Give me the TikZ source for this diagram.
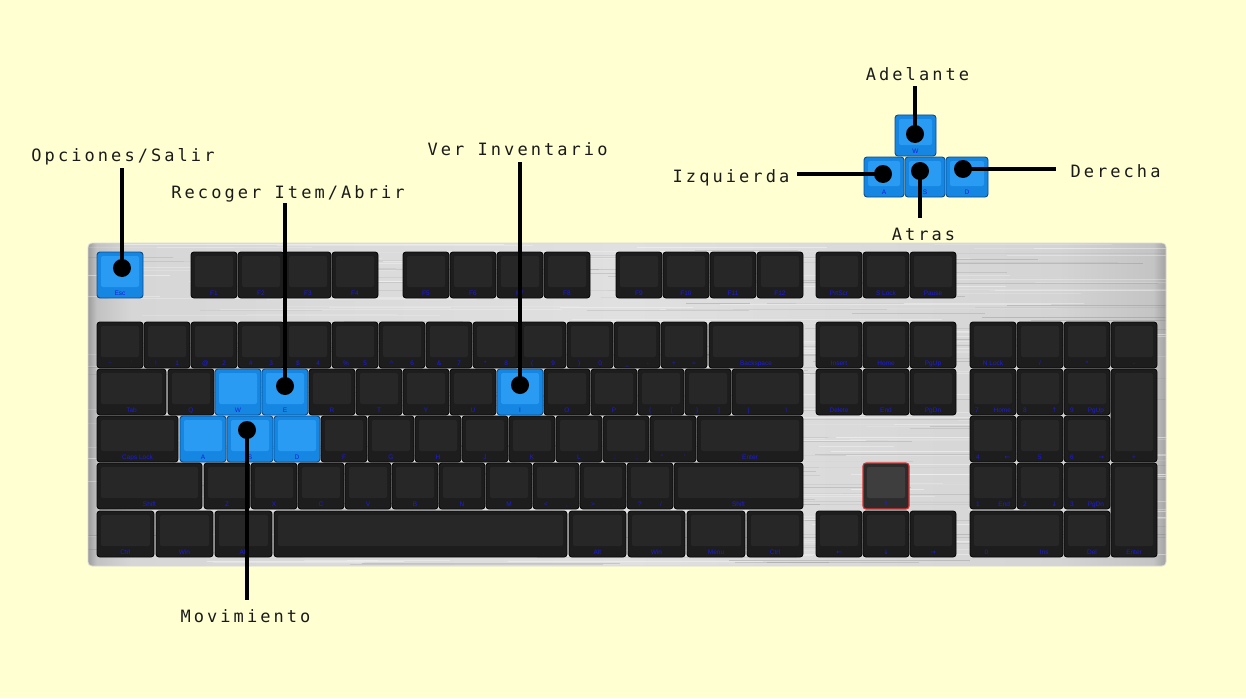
\documentclass[tikz,border=0pt]{standalone}
\usepackage{fontspec}
\setmainfont{Liberation Sans}
\newfontfamily\lblfont[LetterSpace=18]{DejaVu Sans Mono}
\newfontfamily\arrfont{DejaVu Sans}
\definecolor{bgc}{HTML}{FFFFD2}
\definecolor{keyout}{HTML}{1D1D1D}
\definecolor{keyin}{HTML}{272727}
\definecolor{keyedge}{HTML}{080808}
\definecolor{blueout}{HTML}{1587E2}
\definecolor{bluein}{HTML}{2A9BF2}
\definecolor{blueedge}{HTML}{0B4C8C}
\definecolor{rededge}{HTML}{E03030}
\definecolor{upout}{HTML}{2C2C2C}
\definecolor{upin}{HTML}{3E3E3E}
\definecolor{legc}{HTML}{1C1CE0}
\definecolor{lblc}{HTML}{1A1A1A}
\definecolor{m1}{HTML}{9C9C9C}
\definecolor{m2}{HTML}{C2C2C2}
\definecolor{m3}{HTML}{D6D6D6}
\definecolor{m4}{HTML}{E0E0E0}
\definecolor{m5}{HTML}{D4D4D4}
\definecolor{m6}{HTML}{C4C4C4}
\definecolor{m7}{HTML}{A2A2A2}
\pgfdeclarehorizontalshading{metal}{100bp}{color(0bp)=(m1); color(25bp)=(m1); color(25.4bp)=(m2); color(27bp)=(m3); color(50bp)=(m4); color(70bp)=(m5); color(74.4bp)=(m6); color(75bp)=(m7); color(100bp)=(m7)}
\newcommand\kb[7]{%
  \node[#6, minimum width={(#4)-(#2)}, minimum height={(#5)-(#3)}] (#1) at ({((#2)+(#4))/2},{((#3)+(#5))/2}) {};
  \node[leg] (#1-l) at ([yshift=3pt]#1.south) {#7};}
\newcommand\ks[5]{\kb{#1}{#2}{#3}{#2+46}{#3+46}{#4}{#5}}
\newcommand\two[3][24pt]{\makebox[#1]{#2\hfill #3}}
\begin{document}
\begin{tikzpicture}[x=1pt,y=-1pt,
  keybase/.style n args={3}{draw=#1, fill=#2, line width=0.9pt, rounded corners=3pt, inner sep=0pt, outer sep=0pt,
    path picture={\fill[#3, rounded corners=2pt] ([xshift=4pt,yshift=-4pt]path picture bounding box.north west) rectangle ([xshift=-4pt,yshift=11pt]path picture bounding box.south east);}},
  dk/.style={keybase={keyedge}{keyout}{keyin}},
  bk/.style={keybase={blueedge}{blueout}{bluein}},
  rk/.style={keybase={rededge}{upout}{upin}, line width=1.1pt},
  leg/.style={text=legc, font=\fontsize{6.5}{6.5}\selectfont, inner sep=0pt, anchor=base},
  lbl/.style={text=lblc, font=\lblfont\fontsize{17}{17}\selectfont, inner sep=0pt, anchor=base, text height=13pt, text depth=0pt},
  dot/.style={circle, fill=black, minimum size=18pt, inner sep=0pt},
  conn/.style={line width=4pt, black}]
\fill[bgc] (0,0) rectangle (1246,698);
\useasboundingbox (0,0) rectangle (1246,698);
% plate
\shade[shading=metal, rounded corners=4pt] (88,243) rectangle (1166,566);
\begin{scope}
\clip (88,243) rectangle (1166,566);
\pgfmathsetseed{11}
\foreach \i in {1,...,200}{
  \pgfmathsetmacro\yy{244+rnd*321}
  \pgfmathsetmacro\xa{60+rnd*1000}
  \pgfmathsetmacro\xb{\xa+60+rnd*350}
  \pgfmathsetmacro\op{0.1+0.35*rnd}
  \draw[white, opacity=\op, line width=0.7pt] (\xa,\yy) -- (\xb,\yy);}
\foreach \i in {1,...,160}{
  \pgfmathsetmacro\yy{244+rnd*321}
  \pgfmathsetmacro\xa{60+rnd*1000}
  \pgfmathsetmacro\xb{\xa+60+rnd*300}
  \pgfmathsetmacro\op{0.08+0.22*rnd}
  \draw[black!55, opacity=\op, line width=0.6pt] (\xa,\yy) -- (\xb,\yy);}
\end{scope}
\draw[white!70!gray, line width=0.8pt, rounded corners=4pt] (88,243) rectangle (1166,566);
% function row
\ks{kesc}{97}{252}{bk}{Esc}
\ks{kf1}{191}{252}{dk}{F1}
\ks{kf2}{238}{252}{dk}{F2}
\ks{kf3}{285}{252}{dk}{F3}
\ks{kf4}{332}{252}{dk}{F4}
\ks{kf5}{403}{252}{dk}{F5}
\ks{kf6}{450}{252}{dk}{F6}
\ks{kf7}{497}{252}{dk}{F7}
\ks{kf8}{544}{252}{dk}{F8}
\ks{kf9}{616}{252}{dk}{F9}
\ks{kf10}{663}{252}{dk}{F10}
\ks{kf11}{710}{252}{dk}{F11}
\ks{kf12}{757}{252}{dk}{F12}
\ks{kprt}{816}{252}{dk}{PrtScr}
\ks{kslk}{863}{252}{dk}{S Lock}
\ks{kpau}{910}{252}{dk}{Pause}
% number row
\ks{kgrv}{97}{322}{dk}{\two{\textasciitilde}{\symbol{96}}}
\ks{k1}{144}{322}{dk}{\two{!}{1}}
\ks{k2}{191}{322}{dk}{\two{@}{2}}
\ks{k3}{238}{322}{dk}{\two{\#}{3}}
\ks{k4}{285}{322}{dk}{\two{\$}{4}}
\ks{k5}{332}{322}{dk}{\two{\%}{5}}
\ks{k6}{379}{322}{dk}{\two{\textasciicircum}{6}}
\ks{k7}{426}{322}{dk}{\two{\&}{7}}
\ks{k8}{473}{322}{dk}{\two{*}{8}}
\ks{k9}{520}{322}{dk}{\two{(}{9}}
\ks{k0}{567}{322}{dk}{\two{)}{0}}
\ks{kmin}{614}{322}{dk}{\two{\_}{-}}
\ks{keq}{661}{322}{dk}{\two{+}{=}}
\kb{kbsp}{709}{322}{803}{368}{dk}{Backspace}
% tab row
\kb{ktab}{97}{369}{166}{415}{dk}{Tab}
\ks{kq}{168}{369}{dk}{Q}
\ks{kw}{215}{369}{bk}{W}
\ks{ke}{262}{369}{bk}{E}
\ks{kr}{309}{369}{dk}{R}
\ks{kt}{356}{369}{dk}{T}
\ks{ky}{403}{369}{dk}{Y}
\ks{ku}{450}{369}{dk}{U}
\ks{ki}{497}{369}{bk}{I}
\ks{ko}{544}{369}{dk}{O}
\ks{kp}{591}{369}{dk}{P}
\ks{klb}{638}{369}{dk}{\two{\{}{[}}
\ks{krb}{685}{369}{dk}{\two{\}}{]}}
\kb{kbsl}{732}{369}{803}{415}{dk}{\two[40pt]{|}{\textbackslash}}
% caps row
\kb{kcap}{97}{416}{178}{462}{dk}{Caps Lock}
\ks{ka}{180}{416}{bk}{A}
\ks{kss}{227}{416}{bk}{S}
\ks{kd}{274}{416}{bk}{D}
\ks{kf}{321}{416}{dk}{F}
\ks{kg}{368}{416}{dk}{G}
\ks{kh}{415}{416}{dk}{H}
\ks{kj}{462}{416}{dk}{J}
\ks{kk}{509}{416}{dk}{K}
\ks{kl}{556}{416}{dk}{L}
\ks{ksc}{603}{416}{dk}{\two{:}{;}}
\ks{kqt}{650}{416}{dk}{\two{"}{'}}
\kb{kent}{697}{416}{803}{462}{dk}{Enter}
% shift row
\kb{klsh}{97}{463}{202}{509}{dk}{Shift}
\ks{kz}{204}{463}{dk}{Z}
\ks{kx}{251}{463}{dk}{X}
\ks{kc}{298}{463}{dk}{C}
\ks{kv}{345}{463}{dk}{V}
\ks{kb}{392}{463}{dk}{B}
\ks{kn}{439}{463}{dk}{N}
\ks{km}{486}{463}{dk}{M}
\ks{kcom}{533}{463}{dk}{\two{<}{,}}
\ks{kdot}{580}{463}{dk}{\two{>}{.}}
\ks{kslh}{627}{463}{dk}{\two{?}{/}}
\kb{krsh}{674}{463}{803}{509}{dk}{Shift}
% bottom row
\kb{klct}{97}{511}{154}{557}{dk}{Ctrl}
\kb{klwn}{156}{511}{213}{557}{dk}{Win}
\kb{klal}{215}{511}{272}{557}{dk}{Alt}
\kb{kspc}{274}{511}{567}{557}{dk}{}
\kb{kral}{569}{511}{626}{557}{dk}{Alt}
\kb{krwn}{628}{511}{685}{557}{dk}{Win}
\kb{kmen}{687}{511}{745}{557}{dk}{Menu}
\kb{krct}{747}{511}{803}{557}{dk}{Ctrl}
% navigation
\ks{kins}{816}{322}{dk}{Insert}
\ks{khom}{863}{322}{dk}{Home}
\ks{kpgu}{910}{322}{dk}{PgUp}
\ks{kdel}{816}{369}{dk}{Delete}
\ks{kend}{863}{369}{dk}{End}
\ks{kpgd}{910}{369}{dk}{PgDn}
\ks{kup}{863}{463}{rk}{\arrfont ↑}
\ks{klft}{816}{511}{dk}{\arrfont ←}
\ks{kdwn}{863}{511}{dk}{\arrfont ↓}
\ks{krgt}{910}{511}{dk}{\arrfont →}
% numpad
\ks{knlk}{970}{322}{dk}{N Lock}
\ks{kndv}{1017}{322}{dk}{/}
\ks{knml}{1064}{322}{dk}{*}
\ks{knmn}{1111}{322}{dk}{-}
\ks{kn7}{970}{369}{dk}{\two[36pt]{7}{Home}}
\ks{kn8}{1017}{369}{dk}{\two[34pt]{8}{\arrfont ↑}}
\ks{kn9}{1064}{369}{dk}{\two[34pt]{9}{PgUp}}
\kb{knpl}{1111}{369}{1157}{462}{dk}{+}
\ks{kn4}{970}{416}{dk}{\two[34pt]{4}{\arrfont ←}}
\ks{kn5}{1017}{416}{dk}{5}
\ks{kn6}{1064}{416}{dk}{\two[34pt]{6}{\arrfont →}}
\ks{kn1}{970}{463}{dk}{\two[34pt]{1}{End}}
\ks{kn2}{1017}{463}{dk}{\two[34pt]{2}{\arrfont ↓}}
\ks{kn3}{1064}{463}{dk}{\two[34pt]{3}{PgDn}}
\kb{knen}{1111}{463}{1157}{557}{dk}{Enter}
\kb{kn0}{970}{511}{1063}{557}{dk}{\two[64pt]{0}{Ins}}
\ks{kndl}{1064}{511}{dk}{\hspace{10pt}Del}
% mini WASD cluster
\kb{mw}{895}{115}{936}{156}{bk}{W}
\kb{ma}{864}{157}{904}{197}{bk}{A}
\kb{ms}{905}{157}{945}{197}{bk}{S}
\kb{md}{946}{157}{988}{197}{bk}{D}
% labels
\node[lbl] (lopc) at (123,161) {Opciones/Salir};
\node[lbl] (lrec) at (288,198) {Recoger Item/Abrir};
\node[lbl] (lver) at (517.5,155) {Ver Inventario};
\node[lbl] (lmov) at (245.5,622) {Movimiento};
\node[lbl] (lade) at (917.5,81) {Adelante};
\node[lbl] (lizq) at (731,182) {Izquierda};
\node[lbl] (latr) at (923.5,240) {Atras};
\node[lbl] (lder) at (1115.5,177) {Derecha};
% dots
\node[dot] (dEsc) at (122,268) {};
\node[dot] (dE) at (285,386) {};
\node[dot] (dI) at (520,385) {};
\node[dot] (dS) at (247,430) {};
\node[dot] (dmW) at (915,134) {};
\node[dot] (dmA) at (883,174) {};
\node[dot] (dmS) at (920,171) {};
\node[dot] (dmD) at (963,169) {};
% connectors
\coordinate (izqend) at ([xshift=7pt]lizq.east);
\coordinate (derend) at ([xshift=-14pt]lder.west);
\draw[conn] (dEsc.center) -- ([yshift=-7pt]dEsc |- lopc.south);
\draw[conn] (dE.center) -- ([yshift=-5pt]dE |- lrec.south);
\draw[conn] (dI.center) -- ([yshift=-7pt]dI |- lver.south);
\draw[conn] (dS.center) -- ([yshift=9pt]dS |- lmov.north);
\draw[conn] (dmW.center) -- ([yshift=-5pt]dmW |- lade.south);
\draw[conn] (dmA.center) -- (dmA -| izqend);
\draw[conn] (dmS.center) -- ([yshift=9pt]dmS |- latr.north);
\draw[conn] (dmD.center) -- (dmD -| derend);
\end{tikzpicture}
\end{document}
